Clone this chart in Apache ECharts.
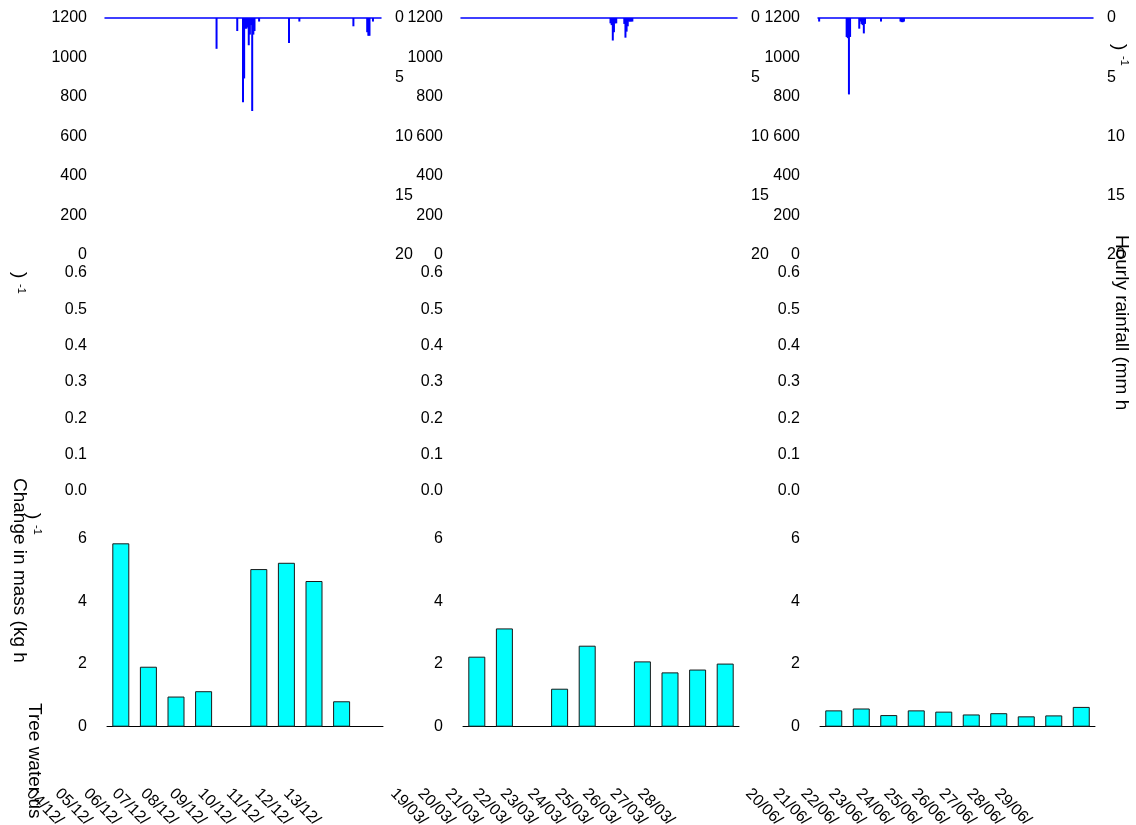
<!DOCTYPE html>
<html>
<head>
<meta charset="utf-8">
<script src="https://cdn.jsdelivr.net/npm/echarts@6/dist/echarts.min.js"></script>
<style>
html,body{margin:0;padding:0;background:#fff;}
#chart{width:1136px;height:825px;}
</style>
</head>
<body>
<div id="chart"></div>
<script>
// ---- data ----
const decDates = ['04/12/','05/12/','06/12/','07/12/','08/12/','09/12/','10/12/','11/12/','12/12/','13/12/'];
const marDates = ['19/03/','20/03/','21/03/','22/03/','23/03/','24/03/','25/03/','26/03/','27/03/','28/03/'];
const junDates = ['20/06/','21/06/','22/06/','23/06/','24/06/','25/06/','26/06/','27/06/','28/06/','29/06/'];

// Tree water use (kg h-1), one value per day slot
const decWaterUse = [5.84, 1.91, 0.96, 1.13, null, 5.02, 5.22, 4.64, 0.81, null];
const marWaterUse = [2.23, 3.13, null, 1.21, 2.58, null, 2.08, 1.73, 1.82, 2.01];
const junWaterUse = [0.52, 0.58, 0.37, 0.52, 0.48, 0.39, 0.43, 0.33, 0.36, 0.63];

// Hourly rainfall (mm h-1): [hour since start of period, mm]
const decRain = [[97,2.6],[115,1.1],[120,7.1],[121,5.1],[122,0.9],[123,0.9],[124,0.8],[125,2.3],[126,1.4],[127,0.6],[128,7.85],[129,1.4],[130,1.1],[134,0.3],[160,2.1],[169,0.3],[216,0.7],[228,1.2],[229,1.5],[230,1.5],[233,0.3]];
const marRain = [[130,0.45],[131,0.6],[132,1.9],[133,1.2],[134,0.45],[135,0.45],[142,0.5],[143,1.66],[144,1.15],[145,0.7],[146,0.3],[147,0.3],[148,0.3],[149,0.3]];
const junRain = [[1,0.3],[25,1.6],[26,1.7],[27,6.45],[28,1.6],[36,0.9],[37,0.3],[38,0.5],[39,0.6],[40,1.3],[41,0.5],[55,0.3],[72,0.3],[73,0.35],[74,0.35],[75,0.3]];

// axis tick settings
const leftTopMax = 1200, leftTopStep = 200;
const rainMax = 20, rainStep = 5;
const midMax = 0.6, midStep = 0.1;
const useMax = 6, useStep = 2;

// ---- layout ----
const FONT = 'Liberation Sans, Arial, sans-serif';
const cols = [
  {left:105, width:276, dates:decDates, use:decWaterUse, rain:decRain, lblLeft:29, lblWidth:257},
  {left:461, width:276, dates:marDates, use:marWaterUse, rain:marRain, lblLeft:393, lblWidth:247},
  {left:818, width:275, dates:junDates, use:junWaterUse, rain:junRain, lblLeft:748, lblWidth:249}
];

const grid = [], xAxis = [], yAxis = [], series = [];
const lbl = {fontSize:16, color:'#000', fontFamily:FONT};
const plain = (v) => String(v);

cols.forEach((c) => {
  // top panel: rainfall
  let gi = grid.length;
  grid.push({left:c.left, width:c.width, top:18, height:237});
  let xi = xAxis.length;
  xAxis.push({gridIndex:gi, type:'value', min:0, max:240, position:'top',
    axisLine:{show:true, onZero:false, lineStyle:{color:'#0000ff', width:1.5}},
    axisTick:{show:false}, axisLabel:{show:false}, splitLine:{show:false}});
  yAxis.push({gridIndex:gi, type:'value', min:0, max:leftTopMax, interval:leftTopStep, position:'left',
    axisLine:{show:false}, axisTick:{show:false}, splitLine:{show:false},
    axisLabel:Object.assign({margin:18, formatter:plain}, lbl)});
  let yr = yAxis.length;
  yAxis.push({gridIndex:gi, type:'value', min:0, max:rainMax, interval:rainStep, position:'right', inverse:true,
    axisLine:{show:false}, axisTick:{show:false}, splitLine:{show:false},
    axisLabel:Object.assign({margin:14, formatter:plain}, lbl)});
  series.push({type:'bar', xAxisIndex:xi, yAxisIndex:yr, data:c.rain, barWidth:2,
    itemStyle:{color:'#0000ff'}, silent:true, animation:false});

  // middle panel: empty axis 0-0.6
  gi = grid.length;
  grid.push({left:c.left, width:c.width, top:273, height:218});
  xAxis.push({gridIndex:gi, type:'value', min:0, max:1, show:false});
  yAxis.push({gridIndex:gi, type:'value', min:0, max:midMax, interval:midStep,
    axisLine:{show:false}, axisTick:{show:false}, splitLine:{show:false},
    axisLabel:Object.assign({margin:18, formatter:(v)=>v.toFixed(1)}, lbl)});

  // bottom panel: tree water use bars
  gi = grid.length;
  grid.push({left:c.left+2, width:c.width, top:538.3, height:188.4});
  xi = xAxis.length;
  xAxis.push({gridIndex:gi, type:'category', data:c.dates, boundaryGap:true,
    axisLine:{show:true, lineStyle:{color:'#000', width:1}}, axisTick:{show:false}, axisLabel:{show:false}});
  let yb = yAxis.length;
  yAxis.push({gridIndex:gi, type:'value', min:0, max:useMax, interval:useStep,
    axisLine:{show:false}, axisTick:{show:false}, splitLine:{show:false},
    axisLabel:Object.assign({margin:20, formatter:plain}, lbl)});
  series.push({type:'bar', xAxisIndex:xi, yAxisIndex:yb, data:c.use, barWidth:17,
    itemStyle:{color:'#00ffff', borderColor:'#1a1a1a', borderWidth:1}, animation:false});

  // date labels (offset row as in the original figure)
  gi = grid.length;
  grid.push({left:c.lblLeft, width:c.lblWidth, top:782, height:1});
  xAxis.push({gridIndex:gi, type:'category', data:c.dates, boundaryGap:false,
    axisLine:{show:false}, axisTick:{show:false},
    axisLabel:Object.assign({rotate:-45, margin:9, interval:0}, lbl)});
  yAxis.push({gridIndex:gi, type:'value', show:false});
});

function vtext(x, y, text, size) {
  return {type:'text', x:x, y:y, rotation:-Math.PI/2, silent:true,
    style:{text:text, fontSize:size, fontFamily:FONT, fill:'#000', textAlign:'left', textVerticalAlign:'middle'}};
}

const graphic = [
  vtext(19, 478, 'Change in mass (kg h', 19),
  vtext(34, 703, 'Tree water us', 19),
  vtext(1121, 235, 'Hourly rainfall (mm h', 19),
  vtext(33, 513, ')', 19),
  vtext(37, 525, '-1', 11),
  vtext(1119, 44, ')', 19),
  vtext(1124, 56, '-1', 11),
  vtext(19, 272, ')', 19),
  vtext(21, 284, '-1', 11)
];

const chart = echarts.init(document.getElementById('chart'), null, {renderer:'canvas'});
chart.setOption({
  animation:false,
  backgroundColor:'#ffffff',
  grid:grid, xAxis:xAxis, yAxis:yAxis, series:series, graphic:graphic
});
</script>
</body>
</html>
